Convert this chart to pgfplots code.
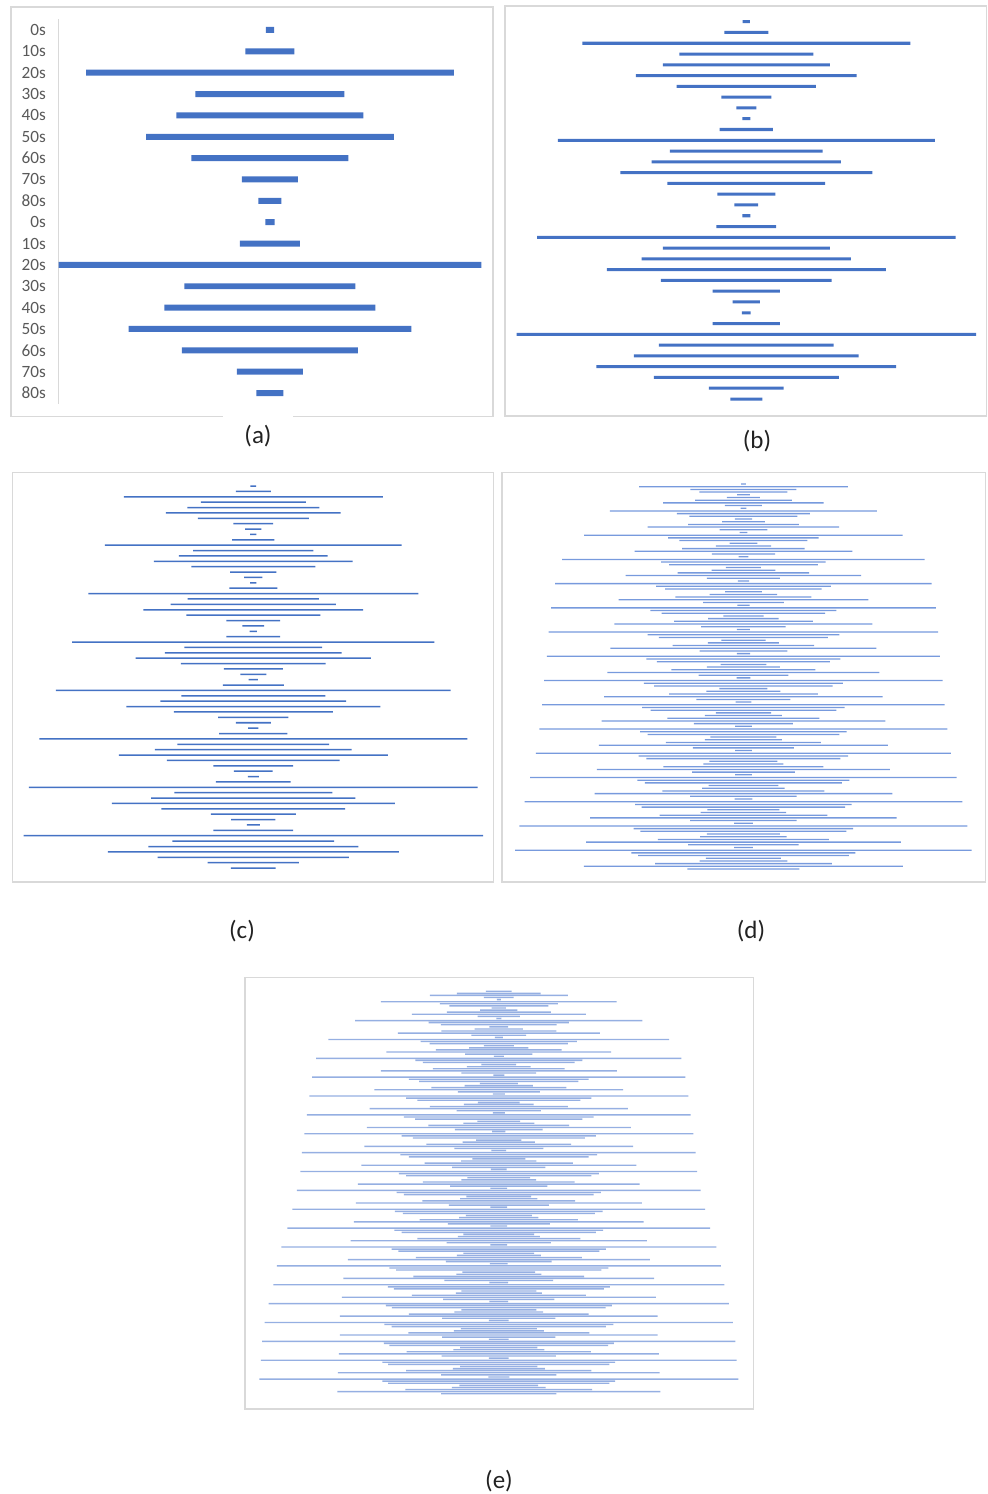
\documentclass[border=0pt]{standalone}
\usepackage{fontspec}
\setmainfont{Carlito}
\usepackage{pgfplots}
\usepackage{pgfplotstable}
\pgfplotsset{compat=1.18}

\definecolor{barblue}{HTML}{4472C4}
\definecolor{thinblue}{HTML}{779ADD}
\definecolor{paleblue}{HTML}{95AFE2}
\definecolor{framegray}{HTML}{D9D9D9}
\definecolor{ticktext}{HTML}{595959}
\definecolor{captext}{HTML}{222222}

% bar widths, one row per bar from top to bottom
\pgfplotstableread{
w
8.3
49
368
149
187
248
157
56
23
9.3
60
422.7
171
211
283
176
66
27
}\dataA

\pgfplotstableread{
w
7.3
44
328
134
167
220.7
139.3
50
20
8
53.3
377
152.7
189.3
252
157.7
58
23.7
8
59.7
418.3
167
209.3
279
170.7
67.3
27.3
8.7
67.3
459.3
174.7
224.7
299.7
185
74.7
32
}\dataB

\pgfplotstableread{
w
5.7
35
259
105
132
174.7
111
39.7
16.3
6.3
42.3
296.7
120.3
148.7
198.7
124
46.3
18.3
6.3
48
330
131.3
165.3
219.7
134
53.7
21.7
7.3
53.7
362.3
137.7
176.7
235.3
144.7
59
26
9.3
61
394.7
144
185.7
254
159
70.3
35
10.3
68.3
428
151.7
196.7
269
172.7
79.7
38.7
11
74.7
448.7
158
204.3
283
183.7
85
44.3
13
79.7
459.3
161.7
210
291
191.3
91.3
44.7
}\dataC

\pgfplotstableread{
w
4.7
208.7
106
88
12.7
33
96.7
160.3
37
5.7
267
133
108
17.3
42.7
110.7
191.3
47.7
7.7
318.3
150.3
128
27.7
55.3
122.3
217.7
63.3
9.7
362.3
164.3
148.7
35
63.7
131.3
235.3
73
11.3
376.3
174.7
156.3
36.7
67.3
136
249.7
80.7
12.3
384.7
186
163.3
40.3
70.3
138.7
258
84.3
13
389.3
191.7
169
44.3
71
141.3
266
87.7
13.3
393
194
173
45.7
73
144
272
89.7
13.7
398.3
199
178.3
48
74
148.7
278.3
94
15.7
402.3
202.3
185.7
55.3
77
152
283.7
99
16.7
408
206.3
191.7
66
77
155
289
101
16.7
415
209.3
194
68
80
160
293
102.7
16.7
426.3
212
197
69.7
82.3
162
297.7
106.3
17.7
437.7
216.3
203.3
72
85.3
167.7
306.3
106.3
18.7
448
219.3
206
73
86.3
171
314.7
110.3
18.7
456.3
224
210.7
75
87.7
176.7
319
112
}\dataD

\pgfplotstableread{
w
25.7
83.7
138
29.7
4
235.7
118
99
14.3
37.3
104
174
42.3
5
287.3
140.3
115.7
18.7
48.3
115
202
54.7
8
340.7
156.3
138.3
30
59.3
125.7
224.7
67.3
10
365.3
167
151.7
34.7
63.7
131.7
236
74.7
11
373.3
179.7
159.3
38
68.3
135
248.7
82
12
379
185.3
163
41.7
69.7
138
258.3
84.3
12
383.7
189.7
167.3
42.7
71
140.7
264
87.7
13.3
389
194.3
172
45.3
72.3
144.7
268.7
89
14.7
393.7
196.7
179.7
53
75.3
148.3
275
93.3
15.7
396.7
200
185.3
62.7
74.7
151.7
281.7
97.3
16.7
403.7
204.3
189.7
64.7
77.3
152.7
286
100
16.7
412.7
207.7
192
66
79.3
158.3
289.7
102
16.7
422.7
208.7
194.3
70.7
82
163
296.3
104.3
16.7
435
214.3
201
70.7
84
166
302
105.7
17.7
444
219
205.3
72.7
85
170.7
310.7
108.7
18.7
451
222
210
75
86
174
314
111.3
18.7
460.3
226
213.7
75
88.7
179.7
317.7
113.3
19.7
468.3
229
214.3
76
90
181
317.7
113.3
19.7
473.3
230
218.7
77.3
91
184.3
320
114.3
19.7
475.7
232.7
221.3
77.3
92
185.3
321.7
115.3
21
479
232.7
221.3
78.7
93.7
186.7
323
115.3
}\dataE

% row number column (0 = top bar)
\pgfplotstablecreatecol[expr={\pgfplotstablerow}]{r}{\dataA}
\pgfplotstablecreatecol[expr={\pgfplotstablerow}]{r}{\dataB}
\pgfplotstablecreatecol[expr={\pgfplotstablerow}]{r}{\dataC}
\pgfplotstablecreatecol[expr={\pgfplotstablerow}]{r}{\dataD}
\pgfplotstablecreatecol[expr={\pgfplotstablerow}]{r}{\dataE}

% centred bars: an invisible spacer followed by the visible bar
% #1 table, #2 largest width, #3 bar colour
\newcommand\spreadbars[3]{%
  \addplot[draw=none, fill=none] table[x expr={(#2-\thisrow{w})/2}, y=r] {#1};
  \addplot[draw=none, fill=#3] table[x=w, y=r] {#1};
}

\pgfplotsset{
  spread/.style={
    xbar stacked, bar width=0.28,
    scale only axis, enlargelimits=false,
    xmin=0, y dir=reverse, ymin=-0.5,
    anchor=north west,
  },
}

\begin{document}
\begin{tikzpicture}
\path[use as bounding box] (0,0) rectangle (493.5pt,-747pt);

% chart frames
\begin{scope}[draw=framegray, line width=0.75pt]
  \draw (111.35pt,-208.25pt) -- (5.5pt,-208.25pt) -- (5.5pt,-3.5pt) -- (246.5pt,-3.5pt) -- (246.5pt,-208.25pt) -- (146.65pt,-208.25pt);
  \draw (252.5pt,-3pt) rectangle (493.35pt,-208pt);
  \draw (6.15pt,-236.35pt) rectangle (246.85pt,-441pt);
  \draw (251pt,-236.35pt) rectangle (492.65pt,-441pt);
  \draw (122.5pt,-488.85pt) rectangle (376.65pt,-704.5pt);
\end{scope}

% (a)
\begin{axis}[spread, at={(29.33pt,-9.65pt)}, width=211.33pt, height=192.2pt,
  xmax=422.7, ymax=17.5,
  axis x line=none, axis y line*=left,
  y axis line style={draw=framegray, line width=0.75pt, -},
  major tick length=0pt,
  ytick={0,...,17},
  yticklabels={0s,10s,20s,30s,40s,50s,60s,70s,80s,0s,10s,20s,30s,40s,50s,60s,70s,80s},
  yticklabel style={font=\fontsize{8.6pt}{10pt}\selectfont, text=ticktext, inner sep=0pt, xshift=-6.2pt},
]
\spreadbars{\dataA}{422.7}{barblue}
\end{axis}

% (b)
\begin{axis}[spread, hide axis, at={(258.3pt,-8.15pt)}, width=229.7pt, height=194.05pt,
  xmax=459.3, ymax=35.5]
\spreadbars{\dataB}{459.3}{barblue}
\end{axis}

% (c)
\begin{axis}[spread, hide axis, at={(11.8pt,-241.65pt)}, width=229.7pt, height=193.7pt,
  xmax=459.3, ymax=71.5]
\spreadbars{\dataC}{459.3}{barblue}
\end{axis}

% (d)
\begin{axis}[spread, hide axis, at={(257.6pt,-241.33pt)}, width=228.2pt, height=193.85pt,
  xmax=456.3, ymax=143.5, bar width=0.48]
\spreadbars{\dataD}{456.3}{thinblue}
\end{axis}

% (e)
\begin{axis}[spread, hide axis, at={(129.65pt,-495.08pt)}, width=239.5pt, height=202.3pt,
  xmax=479, ymax=192.5, bar width=0.66]
\spreadbars{\dataE}{479}{paleblue}
\end{axis}

% panel captions
\begin{scope}[every node/.style={font=\fontsize{12.5pt}{15pt}\selectfont, text=captext, inner sep=0pt}]
  \node at (129pt,-218pt) {(a)};
  \node at (378.5pt,-220.5pt) {(b)};
  \node at (121pt,-465.5pt) {(c)};
  \node at (375.5pt,-465.5pt) {(d)};
  \node at (249.5pt,-740.5pt) {(e)};
\end{scope}
\end{tikzpicture}
\end{document}
